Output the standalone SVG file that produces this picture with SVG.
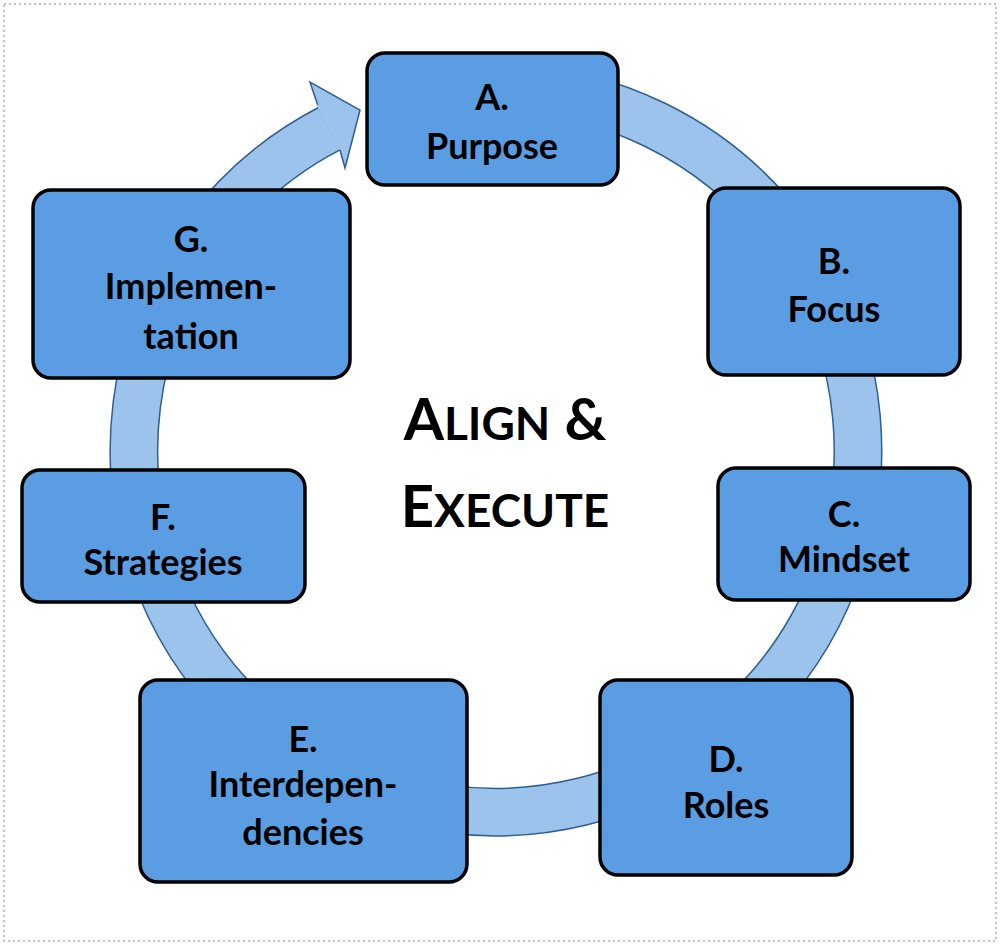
<svg xmlns="http://www.w3.org/2000/svg" width="1000" height="945" viewBox="0 0 1000 945">
<style>
.box{fill:#5a9de2;stroke:#000;stroke-width:3.5}
.t{font-family:Lato,"Open Sans",sans-serif;font-weight:bold;font-size:36px;text-anchor:middle;fill:#000}
.ti{font-family:Lato,"Open Sans",sans-serif;font-weight:bold;text-anchor:middle;fill:#000}
</style>
<rect x="4" y="4" width="992" height="937" fill="#fff" stroke="#b0b0b0" stroke-width="1.5" stroke-dasharray="2,3"/>
<g id="connectors">
<path d="M 496 88 A 362 362 0 1 1 329 128.8" fill="none" stroke="#2f5f8f" stroke-width="49"/>
<path d="M 496 88 A 362 362 0 1 1 329 128.8" fill="none" stroke="#9cc3ec" stroke-width="46"/>
<path d="M 318 106 L 310 82 L 360 110 L 345 168 L 340 150" fill="#9cc3ec" stroke="#2f5f8f" stroke-width="1.5"/>
<path d="M 316.5 105 L 341.5 151 L 345 152 L 320 104 Z" fill="#9cc3ec"/>
</g>
<g id="A"><rect class="box" x="367" y="53" width="251" height="132" rx="18"/><text class="t" x="492" y="110">A.</text><text class="t" x="492" y="159">Purpose</text></g>
<g id="B"><rect class="box" x="708" y="188" width="252" height="187" rx="18"/><text class="t" x="834" y="274">B.</text><text class="t" x="834" y="322">Focus</text></g>
<g id="C"><rect class="box" x="718" y="468" width="252" height="132" rx="18"/><text class="t" x="844" y="527">C.</text><text class="t" x="844" y="572">Mindset</text></g>
<g id="D"><rect class="box" x="600" y="680" width="252" height="195" rx="18"/><text class="t" x="726" y="772">D.</text><text class="t" x="726" y="818">Roles</text></g>
<g id="E"><rect class="box" x="140" y="680" width="327" height="202" rx="18"/><text class="t" x="303" y="752">E.</text><text class="t" x="303" y="797">Interdepen-</text><text class="t" x="303" y="845">dencies</text></g>
<g id="F"><rect class="box" x="22" y="470" width="283" height="132" rx="18"/><text class="t" x="163" y="530">F.</text><text class="t" x="163" y="575">Strategies</text></g>
<g id="G"><rect class="box" x="33" y="190" width="317" height="188" rx="18"/><text class="t" x="191" y="252">G.</text><text class="t" x="191" y="299">Implemen-</text><text class="t" x="191" y="349">tation</text></g>
<g id="title">
<text class="ti" x="505" y="440" font-size="58">A<tspan font-size="46">LIGN</tspan> &amp;</text>
<text class="ti" x="505" y="527" font-size="58">E<tspan font-size="46">XECUTE</tspan></text>
</g>
</svg>
